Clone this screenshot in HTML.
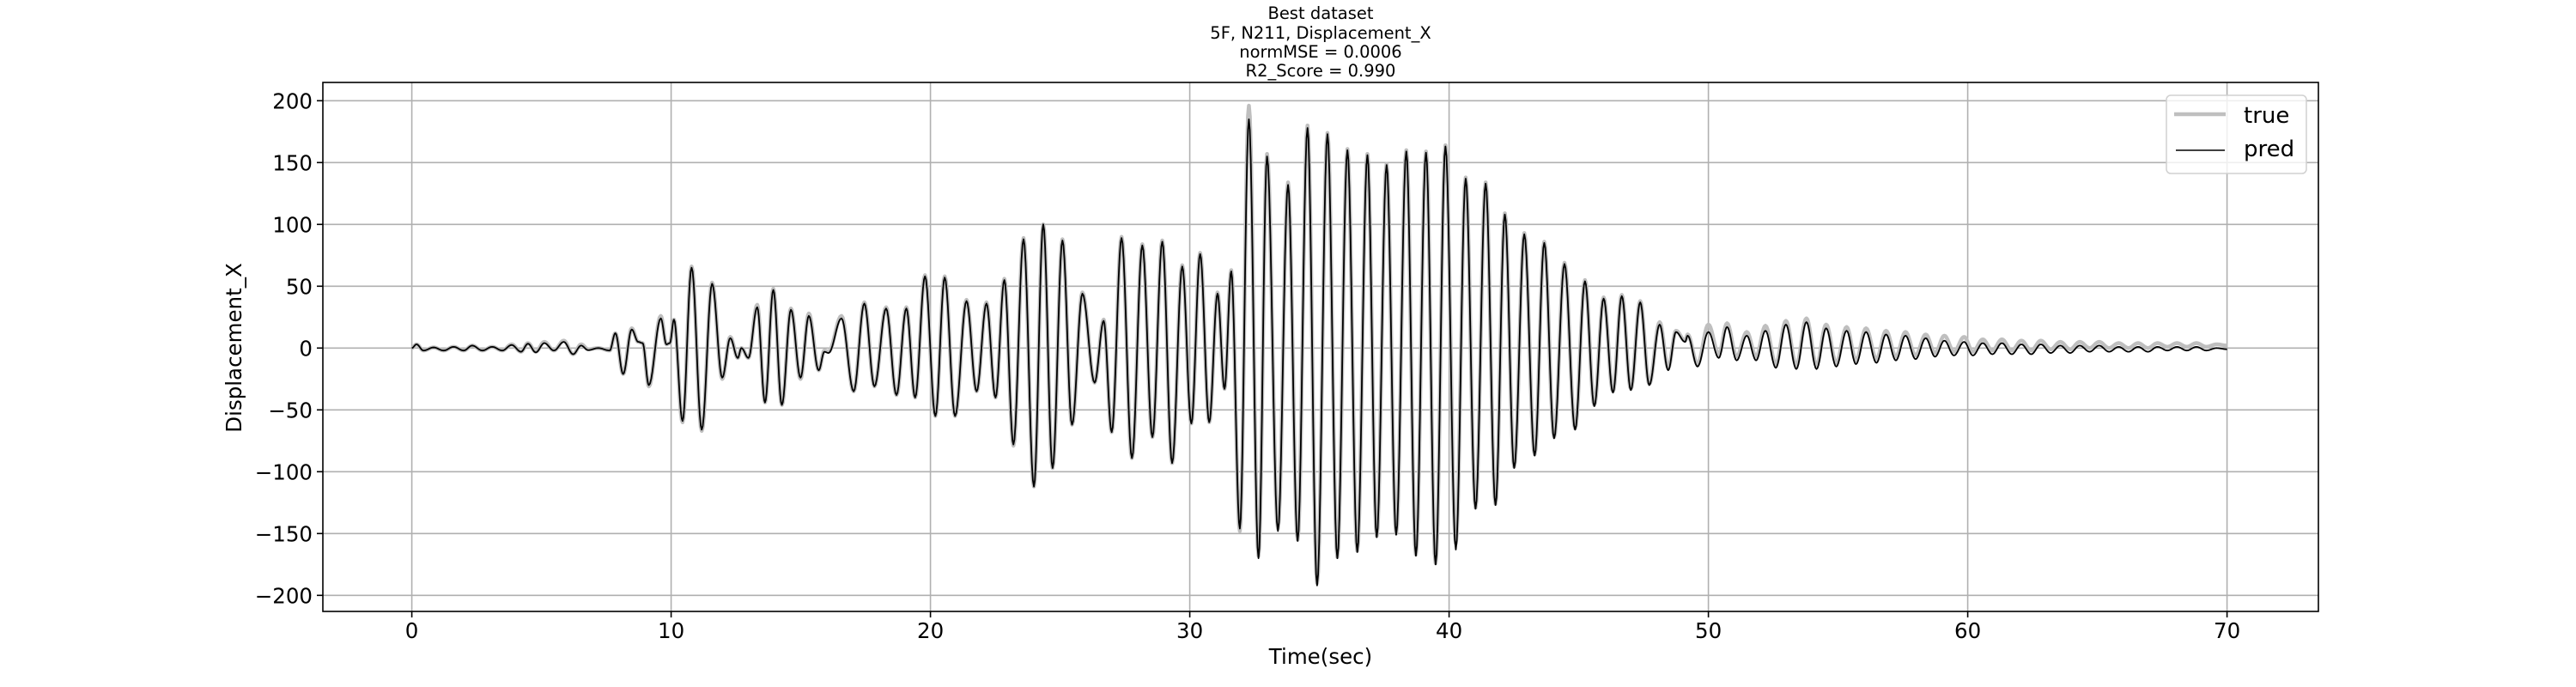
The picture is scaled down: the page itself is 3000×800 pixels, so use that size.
<!DOCTYPE html>
<html><head><meta charset="utf-8"><style>
html,body{margin:0;padding:0;background:#fff;}
svg{display:block;font-family:"DejaVu Sans","Liberation Sans",sans-serif;}
</style></head><body>
<svg id="chart" width="3000" height="800" viewBox="0 0 3000 800" xmlns="http://www.w3.org/2000/svg">
<rect x="0" y="0" width="3000" height="800" fill="#fff"/>
<g id="title" font-size="19.5" text-anchor="middle" fill="#000">
<text x="1538" y="22">Best dataset</text>
<text x="1538" y="45">5F, N211, Displacement_X</text>
<text x="1538" y="67">normMSE = 0.0006</text>
<text x="1538" y="89">R2_Score = 0.990</text>
</g>
<g id="grid"></g>
<g id="series"></g>
<rect x="376" y="96" width="2324" height="616" fill="none" stroke="#000" stroke-width="1.6"/>
<g id="ticks"></g>
<text x="1538" y="773" font-size="24.5" text-anchor="middle">Time(sec)</text>
<text transform="translate(281,405) rotate(-90)" font-size="24.5" text-anchor="middle">Displacement_X</text>
<g>
<rect x="2523" y="111" width="163" height="91" rx="5" fill="#fff" fill-opacity="0.8" stroke="#d0d0d0" stroke-width="1.5"/>
<line x1="2532" y1="133" x2="2592" y2="133" stroke="#bfbfbf" stroke-width="4.5"/>
<text x="2613" y="143" font-size="26">true</text>
<line x1="2534" y1="175" x2="2591" y2="175" stroke="#000" stroke-width="1.6"/>
<text x="2613" y="182" font-size="26">pred</text>
</g>
</svg>
<script>
const xTicks = [0,10,20,30,40,50,60,70];
const yTicks = [200,150,100,50,0,-50,-100,-150,-200];
const times = [0.0,0.18,0.45,0.84,1.23,1.61,2.0,2.33,2.72,3.1,3.49,3.85,4.21,4.48,4.78,5.11,5.48,5.86,6.22,6.53,6.8,7.19,7.63,7.85,8.15,8.48,8.73,8.9,9.14,9.6,9.82,9.95,10.11,10.44,10.79,11.18,11.58,11.97,12.28,12.57,12.71,12.98,13.32,13.62,13.94,14.27,14.62,14.99,15.31,15.69,15.91,16.07,16.57,17.04,17.45,17.84,18.29,18.69,19.07,19.41,19.79,20.19,20.55,20.95,21.39,21.78,22.16,22.51,22.85,23.2,23.59,23.99,24.35,24.71,25.09,25.46,25.86,26.33,26.68,26.99,27.37,27.77,28.17,28.56,28.94,29.32,29.71,30.06,30.4,30.75,31.07,31.34,31.6,31.93,32.28,32.65,32.98,33.4,33.79,34.16,34.54,34.91,35.31,35.69,36.08,36.46,36.85,37.21,37.59,37.96,38.35,38.72,39.11,39.48,39.86,40.26,40.64,41.02,41.41,41.79,42.15,42.51,42.9,43.3,43.67,44.05,44.45,44.86,45.24,45.6,45.96,46.32,46.66,47.01,47.37,47.72,48.12,48.45,48.75,49.1,49.2,49.58,50.0,50.4,50.72,51.09,51.48,51.84,52.2,52.6,52.99,53.39,53.78,54.17,54.54,54.93,55.33,55.69,56.08,56.48,56.85,57.23,57.6,57.99,58.38,58.74,59.1,59.47,59.86,60.2,60.58,60.95,61.32,61.7,62.07,62.45,62.82,63.2,63.57,63.95,64.32,64.7,65.07,65.45,65.82,66.2,66.57,66.95,67.32,67.7,68.07,68.45,68.82,69.2,69.6,70.0];
const predVals = [0,3,-2,0.5,-2,1,-2,2,-2,1,-2,2.5,-3,3.5,-3.5,4,-2,5,-5,2,-1.7,0,-2,12,-21,15,5,4,-30,24,3,4,23,-59,65,-66,52,-24,8,-8,0,-8,33,-44,47,-46,31,-24,26,-18,-3,-4,24,-35,36,-31,32,-38,32,-40,58,-55,57,-55,38,-35,36,-40,55,-78,88,-112,100,-97,87,-62,44,-28,22,-68,89,-89,83,-72,86,-93,66,-61,76,-60,44,-33,62,-146,185,-170,155,-148,132,-156,178,-192,173,-170,160,-165,156,-153,148,-151,159,-168,158,-175,163,-163,137,-130,133,-127,108,-97,92,-87,85,-73,68,-66,54,-47,40,-36,42,-34,37,-30,19,-18,13,5,10,-15,13,-8,17,-10,10,-10,14,-16,19,-17,21,-17,16,-15,14,-13,13,-12,11,-10,10,-9,8,-7,6,-6,5,-6,4,-5,4,-5,3,-5,3,-4,2,-4,2,-3,2,-3,1,-3,1,-3,1,-2,1,-2,1,-2,0,-1];
const trueVals = [0,3,-2,0.5,-2,1,-2,2,-2,1,-2,3,-3,4,-3,5,-2,6,-5,3,-1,0,-2,12,-21,16,5,4,-31,26,3,4,23,-60,66,-67,53,-25,9,-8,0,-8,35,-44,48,-46,32,-25,28,-18,-2,-3,26,-35,37,-31,33,-38,33,-40,59,-55,58,-55,39,-35,37,-40,56,-79,89,-112,100,-97,88,-62,45,-28,23,-68,90,-89,84,-72,87,-93,67,-61,77,-60,45,-33,63,-148,196,-168,157,-146,134,-155,180,-190,174,-169,161,-164,157,-152,149,-150,160,-167,159,-174,164,-158,138,-129,134,-126,109,-96,93,-86,86,-72,69,-65,55,-46,41,-35,43,-33,38,-29,21,-16,14,6,11,-13,19,-5,20,-7,13,-7,18,-13,22,-14,24,-14,19,-12,17,-10,16,-9,14,-7,13,-6,11,-4,10,-3,9,-3,7,-2,7,-2,6,-2,6,-1,5,-1,5,0,5,0,4,0,4,0,4,1,4,1,4,1,3,2];

const NS = 'http://www.w3.org/2000/svg';
const X = t => 479.6 + 30.2 * t;
const Y = v => 405.3 - 1.44 * v;
const gridG = document.getElementById('grid');
const tickG = document.getElementById('ticks');
const seriesG = document.getElementById('series');
function mk(tag, attrs, parent){
  const e = document.createElementNS(NS, tag);
  for (const k in attrs) e.setAttribute(k, attrs[k]);
  parent.appendChild(e);
  return e;
}
xTicks.forEach(t => {
  const g = mk('line', {x1:X(t), x2:X(t), y1:96, y2:712, stroke:'#b0b0b0', 'stroke-width':1.6}, gridG);
  
  
  const tk = mk('line', {x1:X(t), x2:X(t), y1:712, y2:719, stroke:'#000', 'stroke-width':1.6}, tickG);
  
  
  const lb = mk('text', {x:X(t), y:743, 'font-size':24.5, 'text-anchor':'middle'}, tickG);
  lb.textContent = String(t);
  
  
});
yTicks.forEach(v => {
  const g = mk('line', {x1:376, x2:2700, y1:Y(v), y2:Y(v), stroke:'#b0b0b0', 'stroke-width':1.6}, gridG);
  
  
  const tk = mk('line', {x1:369, x2:376, y1:Y(v), y2:Y(v), stroke:'#000', 'stroke-width':1.6}, tickG);
  
  
  const lb = mk('text', {x:364, y:Y(v)+9, 'font-size':24.5, 'text-anchor':'end'}, tickG);
  lb.textContent = v < 0 ? '\u2212' + Math.abs(v) : String(v);
  
  
});
function buildPath(vals){
  let d = 'M' + X(times[0]).toFixed(2) + ' ' + Y(vals[0]).toFixed(2);
  for (let i = 0; i < times.length - 1; i++){
    const t0 = times[i], t1 = times[i+1], v0 = vals[i], v1 = vals[i+1];
    const n = 10;
    for (let k = 1; k <= n; k++){
      const f = k / n;
      const t = t0 + (t1 - t0) * f;
      const w = (1 - Math.cos(Math.PI * f)) / 2;
      const v = v0 + (v1 - v0) * w;
      d += 'L' + X(t).toFixed(2) + ' ' + Y(v).toFixed(2);
    }
  }
  return d;
}
const trueLine = mk('path', {d:buildPath(trueVals), fill:'none', stroke:'#bfbfbf', 'stroke-width':4.5, 'stroke-linejoin':'round'}, seriesG);


const predLine = mk('path', {d:buildPath(predVals), fill:'none', stroke:'#000', 'stroke-width':1.8, 'stroke-linejoin':'round'}, seriesG);


</script>
</body></html>
